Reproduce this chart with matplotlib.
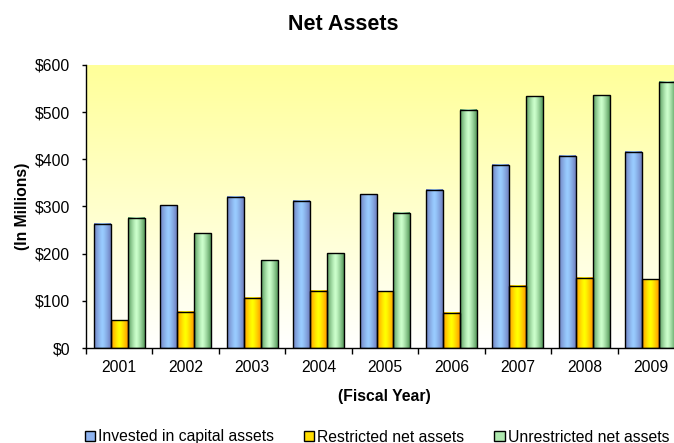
import numpy as np
import matplotlib.pyplot as plt
from matplotlib.colors import LinearSegmentedColormap
from matplotlib.patches import Patch

plt.rcParams['font.family'] = ['Liberation Sans', 'DejaVu Sans']

years = ['2001', '2002', '2003', '2004', '2005', '2006', '2007', '2008', '2009']
invested = [263, 303, 321, 312, 326, 335, 389, 408, 416]
restricted = [59, 77, 107, 121, 120, 75, 132, 149, 146]
unrestricted = [276, 243, 186, 201, 287, 505, 534, 536, 565]

series_names = ['Invested in capital assets', 'Restricted net assets', 'Unrestricted net assets']
# (edge colour, centre colour) for horizontal gradient of each series
grad_colors = [('#6f7fbf', '#99ccff'), ('#ff9900', '#ffff00'), ('#55995a', '#ccffcc')]
legend_colors = ['#8fb4f0', '#ffdd00', '#aee8ae']

fs = 11.3
fig = plt.figure(figsize=(6.74, 4.43), dpi=100)
# plot area runs slightly past the right edge of the image, like the original
ax = fig.add_axes([86 / 674, 1 - 348 / 443, (684 - 86) / 674, (348 - 65) / 443])

x = np.arange(len(years))
w = 0.255

# background: pale yellow at top fading to white
bg = LinearSegmentedColormap.from_list('bg', ['#ffffff', '#ffff99'])
ax.imshow(np.linspace(0, 1, 256).reshape(-1, 1), cmap=bg, aspect='auto',
          extent=[-0.5, len(years) - 0.5, 0, 600], origin='lower', zorder=0)

grad = np.abs(np.linspace(-1, 1, 64)) ** 1.3
for i, (vals, (edge_c, mid_c)) in enumerate(zip([invested, restricted, unrestricted], grad_colors)):
    cmap = LinearSegmentedColormap.from_list('g%d' % i, [mid_c, edge_c])
    bars = ax.bar(x + (i - 1) * w, vals, w, facecolor='none', edgecolor='black',
                  linewidth=1.0, zorder=3)
    for b in bars:
        ax.imshow(grad.reshape(1, -1), cmap=cmap, vmin=0, vmax=1, aspect='auto',
                  extent=[b.get_x(), b.get_x() + b.get_width(), 0, b.get_height()],
                  zorder=2, interpolation='bilinear')

ax.set_xlim(-0.5, len(years) - 0.5)
ax.set_ylim(0, 600)

ax.set_yticks(range(0, 601, 100))
ax.set_yticklabels(['$%d' % v for v in range(0, 601, 100)], fontsize=fs)
ax.set_xticks(x)
ax.set_xticklabels(years, fontsize=fs)
ax.tick_params(axis='x', length=0, pad=9)
ax.set_xticks(np.arange(-0.5, len(years), 1), minor=True)
ax.tick_params(axis='x', which='minor', length=4, width=1)
ax.tick_params(axis='y', length=3, width=1, pad=8.5)

for s in ['top', 'right']:
    ax.spines[s].set_visible(False)
ax.spines['left'].set_linewidth(1)
ax.spines['bottom'].set_linewidth(1)

fig.text(22 / 674, 1 - 206 / 443, '(In Millions)', fontsize=fs, fontweight='bold',
         rotation=90, ha='center', va='center')
fig.text(384 / 674, 1 - 397 / 443, '(Fiscal Year)', fontsize=fs, fontweight='bold',
         ha='center', va='center')
fig.text(343 / 674, 1 - 24 / 443, 'Net Assets', fontsize=15.5, fontweight='bold',
         ha='center', va='center')

handles = [Patch(facecolor=c, edgecolor='black', linewidth=1) for c in legend_colors]
fig.legend(handles, series_names, loc='center', bbox_to_anchor=(377 / 674, 1 - 437 / 443),
           ncol=3, frameon=False, fontsize=fs, handlelength=0.65, handleheight=0.65,
           handletextpad=0.2, columnspacing=1.9, borderpad=0, borderaxespad=0)

fig.savefig('out.png', dpi=100)
